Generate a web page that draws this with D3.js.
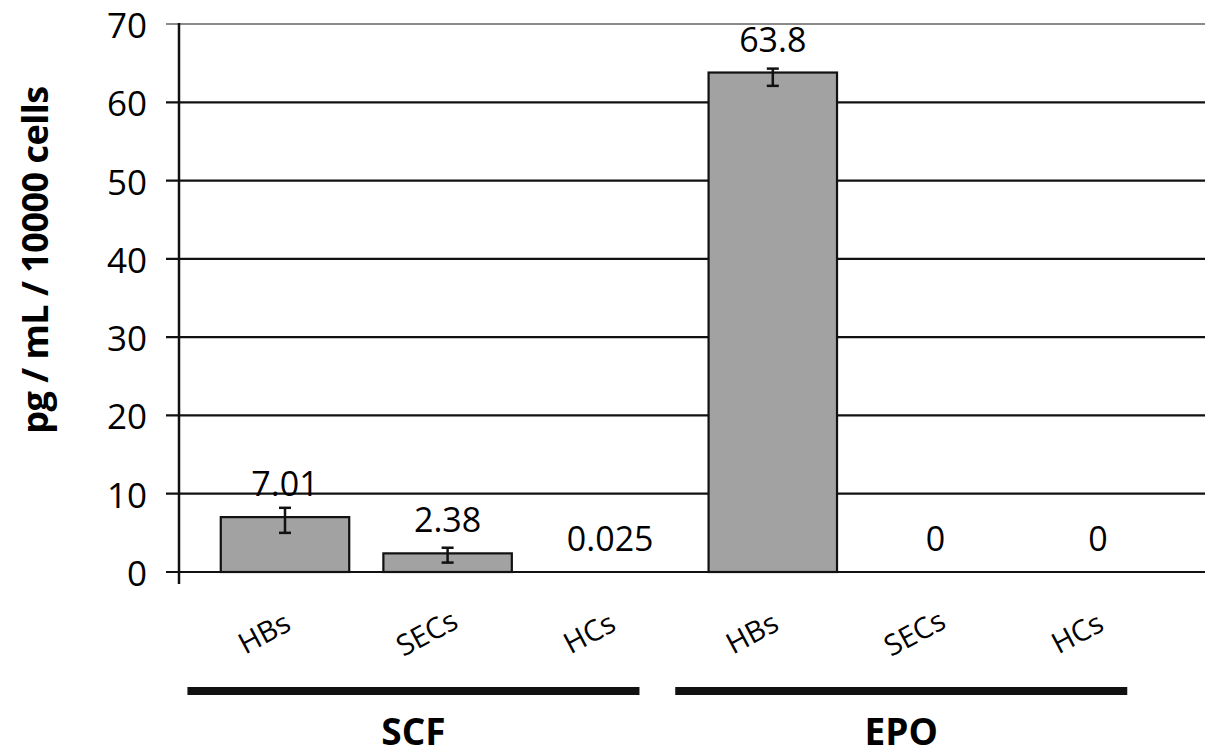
<!DOCTYPE html>
<meta charset="utf-8">
<style>

body {
  margin: 0;
  background: #fff;
}

text {
  font-family: "Open Sans", sans-serif;
  fill: #000;
}

</style>
<svg width="1205" height="756"></svg>
<script src="https://d3js.org/d3.v7.min.js"></script>
<script>

// data
var groups = ["SCF", "EPO"];
var cellTypes = ["HBs", "SECs", "HCs"];
var scfValues = [7.01, 2.38, 0.025];
var epoValues = [63.8, 0, 0];
// error bar ends (low / high), null where none is drawn
var scfErrLow = [5.0, 1.2, null];
var scfErrHigh = [8.2, 3.1, null];
var epoErrLow = [62.1, null, null];
var epoErrHigh = [64.3, null, null];
var yTicks = [0, 10, 20, 30, 40, 50, 60, 70];
var yLabel = "pg / mL / 10000 cells";

var svg = d3.select("svg"),
    width = +svg.attr("width"),
    height = +svg.attr("height");

var valuesByGroup = { SCF: scfValues, EPO: epoValues },
    lowByGroup = { SCF: scfErrLow, EPO: epoErrLow },
    highByGroup = { SCF: scfErrHigh, EPO: epoErrHigh };

var data = [];
groups.forEach(function(g) {
  cellTypes.forEach(function(c, i) {
    data.push({
      key: g + "-" + c,
      group: g,
      cell: c,
      value: valuesByGroup[g][i],
      lo: lowByGroup[g][i],
      hi: highByGroup[g][i]
    });
  });
});

var axisX = 179;

var x = d3.scalePoint()
    .domain(data.map(function(d) { return d.key; }))
    .range([285, 1098]);

var step = x.step(),
    barW = step * 0.79;

var y = d3.scaleLinear()
    .domain([0, 70])
    .range([572, 24]);

// gridlines + tick marks
svg.append("g")
  .selectAll("line")
  .data(yTicks)
  .enter().append("line")
    .attr("x1", axisX - 13)
    .attr("x2", width)
    .attr("y1", function(d) { return y(d); })
    .attr("y2", function(d) { return y(d); })
    .attr("stroke", function(d) { return d === 70 ? "#8a8a8a" : "#111"; })
    .attr("stroke-width", 2.2);

svg.append("g")
  .selectAll("text")
  .data(yTicks)
  .enter().append("text")
    .attr("x", axisX - 32)
    .attr("y", function(d) { return y(d); })
    .attr("dy", "0.4em")
    .attr("text-anchor", "end")
    .style("font-size", "35px")
    .text(function(d) { return d; });

// y axis line
svg.append("line")
    .attr("x1", axisX).attr("x2", axisX)
    .attr("y1", y(70) - 1).attr("y2", y(0) + 12)
    .attr("stroke", "#111")
    .attr("stroke-width", 2.5);

svg.append("text")
    .attr("transform", "translate(48," + 260 + ") rotate(-90)")
    .attr("text-anchor", "middle")
    .style("font-size", "36px")
    .style("font-weight", "bold")
    .style("letter-spacing", "-0.5px")
    .text(yLabel);

// bars
svg.append("g")
  .selectAll("rect")
  .data(data.filter(function(d) { return d.value > 0.5; }))
  .enter().append("rect")
    .attr("x", function(d) { return x(d.key) - barW / 2; })
    .attr("width", barW)
    .attr("y", function(d) { return y(d.value); })
    .attr("height", function(d) { return y(0) - y(d.value); })
    .attr("fill", "#a2a2a2")
    .attr("stroke", "#111")
    .attr("stroke-width", 2.2);

// error bars
var err = svg.append("g")
  .selectAll("g")
  .data(data.filter(function(d) { return d.lo != null; }))
  .enter().append("g")
    .attr("stroke", "#111")
    .attr("stroke-width", 2.5);

err.append("line")
    .attr("x1", function(d) { return x(d.key); })
    .attr("x2", function(d) { return x(d.key); })
    .attr("y1", function(d) { return y(d.hi); })
    .attr("y2", function(d) { return y(d.lo); });

err.selectAll(".cap")
  .data(function(d) { return [[d, d.lo], [d, d.hi]]; })
  .enter().append("line")
    .attr("class", "cap")
    .attr("x1", function(p) { return x(p[0].key) - 6; })
    .attr("x2", function(p) { return x(p[0].key) + 6; })
    .attr("y1", function(p) { return y(p[1]); })
    .attr("y2", function(p) { return y(p[1]); });

// value labels
svg.append("g")
  .selectAll("text")
  .data(data)
  .enter().append("text")
    .attr("x", function(d) { return x(d.key); })
    .attr("y", function(d) { return y(d.value) - 21; })
    .attr("text-anchor", "middle")
    .style("font-size", "34px")
    .text(function(d) { return String(d.value); });

// rotated cell type labels
svg.append("g")
  .selectAll("text")
  .data(data)
  .enter().append("text")
    .attr("transform", function(d) { return "translate(" + (x(d.key) - 16) + ",642) rotate(-28)"; })
    .attr("text-anchor", "middle")
    .style("font-size", "29px")
    .text(function(d) { return d.cell; });

// group brackets
var grp = svg.append("g")
  .selectAll("g")
  .data(groups)
  .enter().append("g");

function groupStart(g) { return x(g + "-" + cellTypes[0]) - step * 0.6; }
function groupEnd(g) { return x(g + "-" + cellTypes[cellTypes.length - 1]) + step * 0.18; }

grp.append("line")
    .attr("x1", groupStart)
    .attr("x2", groupEnd)
    .attr("y1", 691)
    .attr("y2", 691)
    .attr("stroke", "#111")
    .attr("stroke-width", 8);

grp.append("text")
    .attr("x", function(g) { return (groupStart(g) + groupEnd(g)) / 2; })
    .attr("y", 745)
    .attr("text-anchor", "middle")
    .style("font-size", "37px")
    .style("font-weight", "bold")
    .text(function(g) { return g; });

</script>
